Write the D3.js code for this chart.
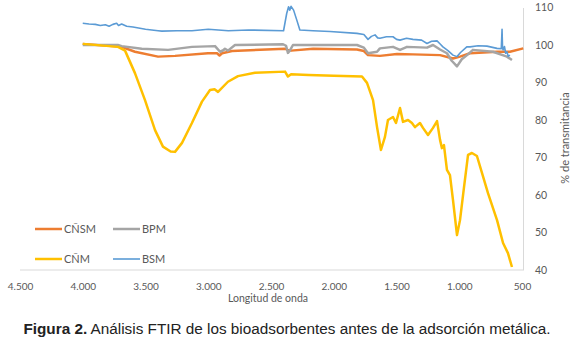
<!DOCTYPE html>
<html>
<head>
<meta charset="utf-8">
<script src="https://cdn.jsdelivr.net/npm/d3@7"></script>
<style>
  body { margin: 0; background: #fff; }
  svg { display: block; }
</style>
</head>
<body>
<div id="chart"></div>
<script>
// [wavenumber, % transmitance]
const cnsm = [[4000,100.3],[3690,99.5],[3584,98.2],[3400,96.9],[3265,97.1],[3002,97.8],[2930,97.8],[2910,97.2],[2890,97.8],[2811,98.4],[2388,99],[2365,98.6],[2340,98.5],[2165,99],[1815,98.8],[1760,98.4],[1727,97.3],[1632,97.1],[1496,97.6],[1369,97.5],[1153,97.3],[1050,96.4],[994,96.9],[914,97.8],[699,98.2],[596,98.2],[490,99.1]];
const bpm = [[4000,100],[3720,100],[3690,99.7],[3530,99],[3320,98.7],[3130,99.5],[2946,99.7],[2906,98.2],[2880,98.6],[2867,99],[2843,98.5],[2787,100],[2404,100.2],[2380,99.8],[2365,97.9],[2350,98.5],[2325,100],[1815,100],[1760,99.3],[1727,97.8],[1655,98.2],[1632,99.1],[1528,99.5],[1472,98.7],[1416,99.5],[1257,99.3],[1209,100],[1153,98.8],[1098,97.8],[1060,95.8],[1018,94.3],[980,96.2],[938,97.3],[891,98.7],[731,98.2],[620,96.9],[580,96]];
const cnm = [[4000,100.3],[3719,99.5],[3663,98.5],[3584,92.5],[3504,85.3],[3424,77.3],[3361,72.9],[3300,71.6],[3265,71.5],[3209,73.9],[3130,79.2],[3050,84.9],[2986,88],[2950,88.2],[2922,87.5],[2843,90.2],[2763,91.7],[2628,92.6],[2388,92.9],[2365,91.6],[2340,92.2],[2200,92],[2000,91.8],[1775,91.6],[1735,89.9],[1687,85.3],[1655,78.1],[1624,72],[1592,75.5],[1568,80],[1528,80.8],[1504,79.2],[1472,83.2],[1448,79.5],[1408,80],[1377,79.2],[1353,78.1],[1313,79.2],[1289,77.9],[1249,76],[1209,77.9],[1177,79.7],[1153,74.7],[1138,72.5],[1122,73.3],[1098,66.7],[1074,65.3],[1050,58.7],[1018,49.3],[994,53.3],[962,62.1],[930,70.7],[899,71.2],[859,70.4],[819,65.9],[771,60.5],[699,53.3],[651,47.2],[612,44.5],[580,40.8]];
const bsm = [[4000,105.8],[3950,105.6],[3900,105.5],[3860,105.2],[3820,105.4],[3790,105.0],[3760,105.5],[3730,105.8],[3715,105.2],[3690,105.6],[3650,105.0],[3600,104.8],[3500,104.2],[3400,103.8],[3370,103.7],[3250,103.8],[3130,103.8],[3000,104.2],[2840,103.8],[2680,104.0],[2400,103.8],[2375,108.4],[2360,110.2],[2350,109.3],[2340,110.3],[2320,109.3],[2295,106.7],[2270,104.0],[2165,103.8],[2030,103.6],[1815,103.1],[1760,102.8],[1727,101.5],[1700,102.3],[1671,102.7],[1650,101.9],[1632,101.8],[1580,102.2],[1528,102.2],[1500,101.5],[1472,101.3],[1420,101.8],[1369,101.5],[1300,101.3],[1257,100.4],[1220,101.0],[1177,101.1],[1150,100.2],[1130,99.5],[1090,98.5],[1050,97.3],[1018,96.9],[990,98.0],[940,99.5],[914,99.5],[850,99.8],[779,99.7],[699,99.1],[665,99.0],[659,104.2],[655,99.2],[651,98.7],[640,99.6],[630,97.8],[620,98.2],[610,97.0],[596,97.3]];

const xTicks = [4500, 4000, 3500, 3000, 2500, 2000, 1500, 1000, 500];
const yTicks = [40, 50, 60, 70, 80, 90, 100, 110];

const series = [
  { name: 'CÑSM', data: cnsm, color: '#ED7D31', width: 2.5 },
  { name: 'BPM', data: bpm, color: '#A5A5A5', width: 2.5 },
  { name: 'CÑM', data: cnm, color: '#FFC000', width: 2.5 },
  { name: 'BSM', data: bsm, color: '#5B9BD5', width: 1.6 }
];

const width = 580, height = 344;
const svg = d3.select('#chart').append('svg').attr('width', width).attr('height', height);

const x = d3.scaleLinear().domain([4500, 500]).range([20, 522]);
const y = d3.scaleLinear().domain([40, 110]).range([270, 7.5]);

const es = d3.formatLocale({ decimal: ',', thousands: '.', grouping: [3], currency: ['', ''] });
const fmt = es.format(',');

// x axis
const xAxis = svg.append('g')
  .attr('transform', 'translate(0,270)')
  .call(d3.axisBottom(x).tickValues(xTicks).tickFormat(fmt).tickSize(0).tickPadding(13));
xAxis.select('.domain').attr('stroke', '#d9d9d9').attr('d', 'M20,0H523');
xAxis.selectAll('text').attr('fill', '#595959').style('font', '10px Lato');

// y axis on the right
const yAxis = svg.append('g')
  .attr('transform', 'translate(523,0)')
  .call(d3.axisRight(y).tickValues(yTicks).tickSize(0).tickPadding(12));
yAxis.select('.domain').attr('stroke', '#d9d9d9');
yAxis.selectAll('text').attr('fill', '#595959').style('font', '10.5px Lato');

// lines
const line = d3.line().x(d => x(d[0])).y(d => y(d[1]));
svg.append('g').selectAll('path')
  .data(series)
  .enter()
  .append('path')
  .attr('d', d => line(d.data))
  .attr('fill', 'none')
  .attr('stroke', d => d.color)
  .attr('stroke-width', d => d.width)
  .attr('stroke-linejoin', 'round');

// legend
const legendPos = [[35, 229], [113, 229], [35, 259], [113, 259]];
const legend = svg.append('g').selectAll('g')
  .data(series)
  .enter()
  .append('g')
  .attr('transform', (d, i) => `translate(${legendPos[i][0]},${legendPos[i][1]})`);
legend.append('line')
  .attr('x1', 0).attr('x2', 27)
  .attr('stroke', d => d.color)
  .attr('stroke-width', d => d.width);
legend.append('text')
  .attr('x', 29).attr('dy', '0.35em')
  .attr('fill', '#595959')
  .style('font', '11px Lato')
  .text(d => d.name);

// axis titles
svg.append('text')
  .attr('x', 268).attr('y', 302)
  .attr('text-anchor', 'middle')
  .attr('fill', '#595959')
  .style('font', '10.5px Lato')
  .text('Longitud de onda');

svg.append('text')
  .attr('transform', 'translate(569,138) rotate(-90)')
  .attr('text-anchor', 'middle')
  .attr('fill', '#595959')
  .style('font', '11px Lato')
  .text('% de transmitancia');

// caption
const cap = svg.append('text')
  .attr('x', 287).attr('y', 334)
  .attr('text-anchor', 'middle')
  .attr('fill', '#222')
  .style('font', '15.3px "Liberation Sans", Arial, sans-serif');
cap.append('tspan').style('font-weight', 'bold').text('Figura 2.');
cap.append('tspan').text(' Análisis FTIR de los bioadsorbentes antes de la adsorción metálica.');
</script>
</body>
</html>
